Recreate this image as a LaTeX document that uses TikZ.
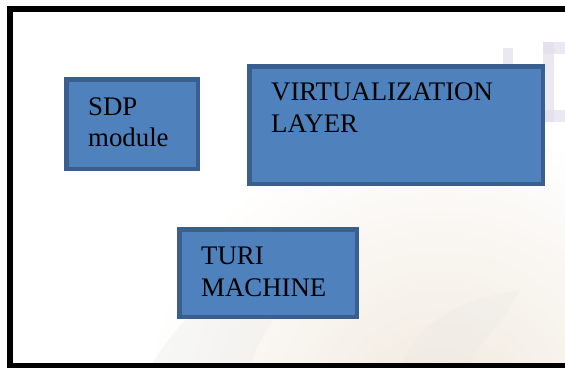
\documentclass[tikz,border=0pt]{standalone}
\usepackage{fontspec}
\setmainfont{Liberation Serif}
\usetikzlibrary{calc}
\definecolor{boxfill}{HTML}{4F81BD}
\definecolor{boxedge}{HTML}{3A5F8E}
\definecolor{globe}{RGB}{240,232,220}
\definecolor{lilac}{RGB}{226,223,236}
\tikzset{
  blk/.style={draw=boxedge, fill=boxfill, line width=4.5pt, inner sep=0pt,
              anchor=north west},
  lbl/.style={anchor=base west, inner sep=0pt, text=black,
              font=\fontsize{26.8}{30}\selectfont},
}
\begin{document}
\begin{tikzpicture}[x=1pt, y=-1pt]
  \clip (0,0) rectangle (565,367);
  \fill[white] (0,0) rectangle (565,367);

  % faded globe and lettering in the background
  \shade[inner color=globe, outer color=white]
    (440,420) circle (300);
  \fill[gray!20, opacity=0.25] (150,367) .. controls (190,300) and (260,250) .. (340,230)
    .. controls (300,280) and (260,330) .. (250,367) -- cycle;
  \fill[gray!20, opacity=0.2] (400,367) .. controls (420,320) and (460,300) .. (520,290)
    .. controls (500,330) and (470,350) .. (470,367) -- cycle;
  \begin{scope}[opacity=0.7]
    \fill[lilac] (503,48) rectangle (513,64);
    \fill[lilac] (543,42) rectangle (565,54);
    \fill[lilac] (543,42) rectangle (554,122);
    \fill[lilac] (543,110) rectangle (565,122);
  \end{scope}

  % outer frame
  \draw[line width=6pt] (572,9) -- (10,9) -- (10,366) -- (572,366);

  % blocks
  \node[blk, minimum width=131.5pt, minimum height=89.5pt]  (sdp)  at (64.25,77.25) {};
  \node[blk, minimum width=293.5pt, minimum height=117.5pt] (virt) at (247.25,64.25) {};
  \node[blk, minimum width=177.5pt, minimum height=87.5pt]  (turi) at (177.25,227.25) {};

  % block captions
  \node[lbl] (sdpA)  at ($(sdp.north west)+(23.75,37.75)$) {SDP};
  \node[lbl] (sdpB)  at ($(sdp.north west)+(23.75,68.75)$) {module};
  \node[lbl] (virtA) at ($(virt.north west)+(23.75,35.75)$) {VIRTUALIZATION};
  \node[lbl] (virtB) at ($(virt.north west)+(23.75,68.25)$) {LAYER};
  \node[lbl] (turiA) at ($(turi.north west)+(23.75,36.75)$) {TURI};
  \node[lbl] (turiB) at ($(turi.north west)+(23.75,68.75)$) {MACHINE};
\end{tikzpicture}
\end{document}
